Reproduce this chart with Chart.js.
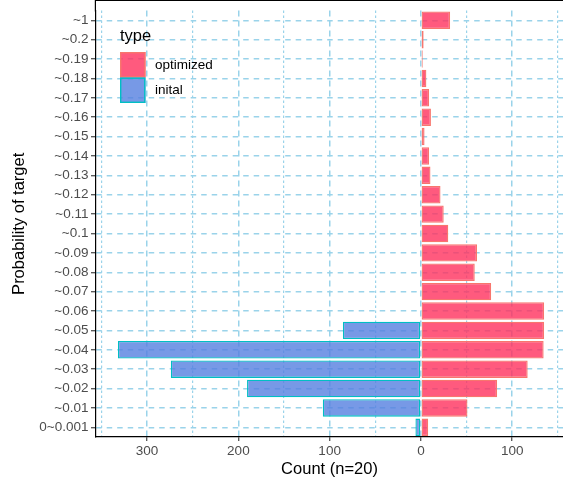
<!DOCTYPE html>
<html><head><meta charset="utf-8">
<script src="https://cdn.jsdelivr.net/npm/chart.js@4.4.0/dist/chart.umd.min.js"></script>
<style>html,body{margin:0;padding:0;background:#fff;}canvas{display:block;}</style>
</head><body>
<canvas id="c" width="563" height="482"></canvas>
<script>
// ---- data ----
const categories = ['~1','~0.2','~0.19','~0.18','~0.17','~0.16','~0.15','~0.14','~0.13','~0.12','~0.11','~0.1','~0.09','~0.08','~0.07','~0.06','~0.05','~0.04','~0.03','~0.02','~0.01','0~0.001'];
const optimizedCounts = [32,3,2,6,9,11,4,9,10.5,21.5,25,30,61.5,59,77,135,135,134.5,117,83.5,51,8];
const initialCounts   = [null,null,null,null,null,null,null,null,null,null,null,null,null,null,null,null,85.5,332,274,190.5,107.5,6];
const seriesNames = ['optimized','inital'];
const xAxisTitle = 'Count (n=20)';
const yAxisTitle = 'Probability of target';
const legendTitle = 'type';

// ---- styles ----
const FONT = "'Liberation Sans', Arial, Helvetica, sans-serif";
const optFill = 'rgba(255,49,94,0.8)', optBorder = '#F8766D';
const iniFill = 'rgba(85,128,224,0.8)', iniBorder = '#00BFC4';
const gridCol = '#9AD3EA';
Chart.defaults.font.family = FONT;

const isMajor = ctx => ctx.tick && Math.abs(ctx.tick.value % 100) < 1e-6;

const ggLegend = {
  id: 'ggLegend',
  afterDraw(chart) {
    const c = chart.ctx, a = chart.chartArea;
    c.save();
    // top frame line and axis extension
    c.strokeStyle = '#000'; c.lineWidth = 1.2;
    c.beginPath(); c.moveTo(a.left - 0.6, 0.5); c.lineTo(a.right, 0.5); c.stroke();
    c.beginPath(); c.moveTo(a.left - 0.6, 0); c.lineTo(a.left - 0.6, a.top + 1); c.stroke();
    // legend
    const x0 = a.left + 24, y0 = 52, k = 25.5;
    c.fillStyle = '#000'; c.textAlign = 'left'; c.textBaseline = 'alphabetic';
    c.font = '16.5px ' + FONT;
    c.fillText(legendTitle, x0, 41);
    const items = [[optFill, optBorder], [iniFill, iniBorder]];
    c.font = '13.5px ' + FONT; c.textBaseline = 'middle';
    items.forEach((it, i) => {
      const y = y0 + i * k;
      c.fillStyle = it[0]; c.fillRect(x0, y, k, k);
      c.strokeStyle = it[1]; c.lineWidth = 1.4; c.strokeRect(x0 + 0.7, y + 0.7, k - 1.4, k - 1.4);
      c.fillStyle = '#000'; c.fillText(seriesNames[i], x0 + 35, y + k / 2 + 0.5);
    });
    c.restore();
  }
};

new Chart(document.getElementById('c'), {
  type: 'bar',
  data: {
    labels: categories,
    datasets: [
      { label: seriesNames[0], data: optimizedCounts, backgroundColor: optFill, borderColor: optBorder,
        borderWidth: 1.3, borderSkipped: false, barPercentage: 0.9, categoryPercentage: 1.0 },
      { label: seriesNames[1], data: initialCounts.map(v => v == null ? null : -v), backgroundColor: iniFill, borderColor: iniBorder,
        borderWidth: 1.3, borderSkipped: false, barPercentage: 0.9, categoryPercentage: 1.0 }
    ]
  },
  options: {
    responsive: false, animation: false, indexAxis: 'y',
    layout: { padding: { top: 2, right: 0, bottom: 0, left: 0 } },
    plugins: { legend: { display: false }, tooltip: { enabled: false } },
    scales: {
      x: {
        type: 'linear', stacked: true, min: -356, max: 155.7,
        afterFit: s => { s.height = 45; },
        ticks: { stepSize: 50, includeBounds: false, autoSkip: false, maxRotation: 0, padding: 2,
          color: '#4D4D4D', font: { size: 13.5 },
          callback: v => (Math.abs(v % 100) < 1e-6 ? String(Math.abs(v)) : '') },
        grid: { color: gridCol, lineWidth: ctx => isMajor(ctx) ? 1.5 : 1.2,
          drawTicks: true, tickLength: 4, tickWidth: 1.1,
          tickColor: ctx => isMajor(ctx) ? '#333' : 'rgba(0,0,0,0)' },
        border: { display: true, color: '#000', width: 1.2,
          dash: ctx => ctx.tick ? (isMajor(ctx) ? [6, 4] : [2.5, 2.5]) : [] },
        title: { display: true, text: xAxisTitle, color: '#000', font: { size: 16.5 }, padding: { top: 0, bottom: 2.8 } }
      },
      y: {
        type: 'category', stacked: true, offset: true,
        afterFit: s => { s.width = 96; },
        ticks: { autoSkip: false, padding: 2.5, color: '#4D4D4D', font: { size: 13.5 } },
        grid: { offset: false, color: gridCol, lineWidth: 1.5, drawTicks: true, tickLength: 5, tickWidth: 1.1, tickColor: '#333' },
        border: { display: true, color: '#000', width: 1.2, dash: ctx => ctx.tick ? [5.5, 5] : [] },
        title: { display: true, text: yAxisTitle, color: '#000', font: { size: 16.5 }, padding: { top: 9.5, bottom: 0 } }
      }
    }
  },
  plugins: [ggLegend]
});
</script>
</body></html>
